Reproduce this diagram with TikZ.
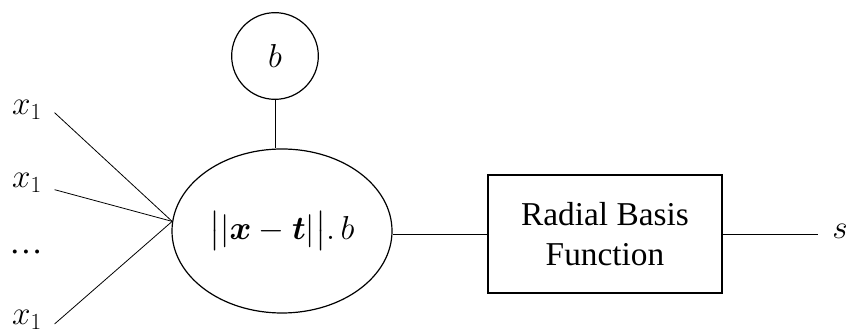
\documentclass[tikz,border=0pt]{standalone}
\usepackage{amsmath}
\usepackage{fontspec}
\setmainfont{Liberation Serif}
\usetikzlibrary{shapes.geometric}

\begin{document}
\begin{tikzpicture}[x=0.75pt, y=-0.75pt, every node/.style={font=\fontsize{25}{29}\selectfont},
  unit/.style={draw, ellipse, line width=0.9pt, minimum width=165pt, minimum height=123pt},
  bias/.style={draw, circle, line width=0.9pt, minimum size=65pt},
  rbf/.style={draw, line width=0.9pt, minimum width=175.5pt, minimum height=88.5pt, align=center,
    font=\fontsize{25}{29.5}\selectfont},
  wire/.style={line width=0.6pt}]
  \useasboundingbox (0,0) rectangle (850,334);
  % neuron
  \node[bias] (b) at (275,56) {$b$};
  \node[unit, inner sep=0pt] (sum) at (282,231) {$\bigl|\lvert\boldsymbol{x}-\boldsymbol{t}\rvert\bigr|.\,b$};
  \node[rbf] (rbf) at (605,234) {Radial Basis\\Function};
  \coordinate (hub) at (sum.175);
  % inputs and output
  \node (in1) at (27,110) {$x_1$};
  \node (in2) at (27,183) {$x_1$};
  \node (dots) at (26,252) {\dots};
  \node (in4) at (27,320) {$x_1$};
  \node (out) at (840,231) {$s$};
  \draw[wire] (b.south) -- (b.south |- sum.north);
  \draw[wire] ([xshift=6pt,yshift=-2pt]in1.east) -- (hub);
  \draw[wire] ([xshift=6pt,yshift=-5pt]in2.east) -- (hub);
  \draw[wire] ([xshift=6pt,yshift=-3pt]in4.east) -- (hub);
  \draw[wire] (rbf.west -| sum.east) -- (rbf.west);
  \draw[wire] (rbf.east) -- ([xshift=-7pt]out.west |- rbf.east);
\end{tikzpicture}
\end{document}
